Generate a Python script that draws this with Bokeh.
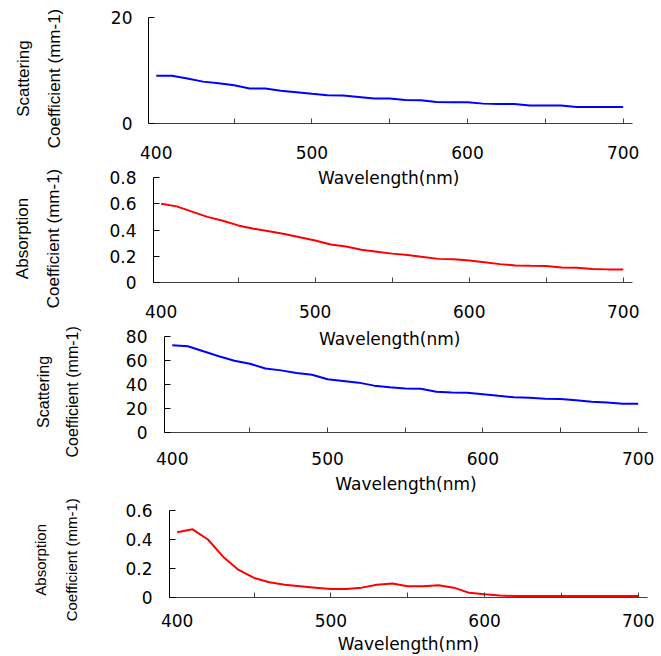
from bokeh.plotting import figure
from bokeh.models import Range1d, FixedTicker, Label, LinearAxis
from bokeh.layouts import column, row
from bokeh.embed import file_html
from bokeh.resources import INLINE

# Wavelength grid (nm)
wavelength = list(range(400, 701, 10))

# Sample 1: scattering and absorption coefficients (mm-1)
scattering_1 = [9.0, 9.0, 8.5, 7.9, 7.6, 7.2, 6.6, 6.6, 6.2, 5.9, 5.6,
                5.35, 5.3, 5.0, 4.7, 4.7, 4.45, 4.4, 4.05, 4.0, 4.0,
                3.75, 3.7, 3.7, 3.4, 3.4, 3.4, 3.1, 3.1, 3.1, 3.1]
absorption_1 = [0.60, 0.58, 0.54, 0.50, 0.47, 0.435, 0.41, 0.39, 0.37, 0.345, 0.32,
                0.29, 0.275, 0.25, 0.235, 0.22, 0.21, 0.195, 0.18, 0.178, 0.168,
                0.155, 0.14, 0.13, 0.127, 0.126, 0.115, 0.113, 0.102, 0.10, 0.10]

# Sample 2: scattering and absorption coefficients (mm-1)
scattering_2 = [72.6, 71.8, 67.6, 63.5, 59.7, 57.2, 53.3, 51.7, 49.5, 48.1, 44.3,
                42.9, 41.5, 39.0, 37.7, 36.6, 36.4, 34.0, 33.2, 33.0, 31.8,
                30.5, 29.3, 29.0, 28.0, 27.8, 26.8, 25.6, 25.0, 24.0, 23.9]
absorption_2 = [0.45, 0.47, 0.40, 0.28, 0.19, 0.135, 0.105, 0.088, 0.078, 0.068, 0.058,
                0.058, 0.068, 0.088, 0.097, 0.078, 0.078, 0.085, 0.068, 0.032, 0.022,
                0.013, 0.010, 0.010, 0.010, 0.010, 0.010, 0.010, 0.010, 0.010, 0.010]

x_labels = [400, 500, 600, 700]
x_minor = [450, 500, 550, 600, 650, 700]
x_title = "Wavelength(nm)"
y_title = "Coefficient (mm-1)"

TICK_FONT = "DejaVu Sans"
TITLE_FONT = "Liberation Sans"
AXIS_COLOR = "#404040"
TITLE_W = 90          # width of the strip that holds the rotated y titles
FULL_W = 661


def title_axis(text, where, size, standoff):
    """A bare axis whose single tick label, laid along the axis, is one title line."""
    return LinearAxis(ticker=FixedTicker(ticks=[where], minor_ticks=[]),
                      major_label_overrides={where: text},
                      major_label_orientation="parallel",
                      major_label_standoff=standoff,
                      major_label_text_font=TITLE_FONT,
                      major_label_text_font_size=size,
                      major_label_text_color="black",
                      axis_line_color=None, major_tick_line_color=None,
                      minor_tick_line_color=None, major_tick_in=0,
                      major_tick_out=0, minor_tick_in=0, minor_tick_out=0)


def title_strip(height, fig_top, borders, outer_text, size, frame_left,
                center, outer_standoff):
    """Narrow figure (vertical scale in page pixels) holding the y title lines."""
    top, bottom = borders
    t = figure(width=TITLE_W, height=height, x_range=Range1d(0, 1),
               y_range=Range1d(fig_top + height - bottom, fig_top + top),
               x_axis_type=None, y_axis_type=None,
               output_backend="svg", toolbar_location=None,
               min_border_left=frame_left, min_border_right=0,
               min_border_top=top, min_border_bottom=bottom,
               background_fill_color="white", border_fill_color="white")
    t.outline_line_color = None
    t.add_layout(title_axis(y_title, center, size, 2), "left")
    t.add_layout(title_axis(outer_text, center, size, outer_standoff), "left")
    return t


def panel(ys, color, y_end, y_ticks, height, borders, axis_px,
          label_standoff, x_label_standoff, show_x_title, title_standoff=5):
    top, bottom, left, right = borders
    frame_h = height - top - bottom
    # the frame may reach above the top tick; the axis line stops at y_end
    y_top = y_end * frame_h / axis_px
    p = figure(width=FULL_W - TITLE_W, height=height, x_range=Range1d(395, 706),
               y_range=Range1d(0, y_top), output_backend="svg",
               toolbar_location=None, min_border_top=top,
               min_border_bottom=bottom, min_border_left=left - TITLE_W,
               min_border_right=right, background_fill_color="white",
               border_fill_color="white")
    p.outline_line_color = None
    p.grid.visible = False

    p.line(wavelength, ys, line_color=color, line_width=2)

    xa = p.xaxis[0]
    xa.ticker = FixedTicker(ticks=x_labels, minor_ticks=x_minor)
    xa.major_tick_in = 0
    xa.major_tick_out = 0
    xa.minor_tick_in = 5
    xa.minor_tick_out = 0
    xa.minor_tick_line_color = AXIS_COLOR
    xa.axis_line_color = AXIS_COLOR
    xa.major_label_standoff = x_label_standoff
    xa.major_label_text_font = TICK_FONT
    xa.major_label_text_font_size = "17px"
    xa.major_label_text_color = "black"
    if show_x_title:
        xa.axis_label = x_title
        xa.axis_label_text_font = TICK_FONT
        xa.axis_label_text_font_size = "17px"
        xa.axis_label_text_font_style = "normal"
        xa.axis_label_text_color = "black"
        xa.axis_label_standoff = title_standoff

    ya = p.yaxis[0]
    ya.ticker = FixedTicker(ticks=y_ticks, minor_ticks=[])
    ya.bounds = (0, y_end)
    ya.major_label_overrides = {0: "0"}
    ya.major_tick_in = 6
    ya.major_tick_out = 0
    ya.major_tick_line_color = "black"
    ya.axis_line_color = "black"
    ya.major_label_standoff = label_standoff
    ya.major_label_text_font = TICK_FONT
    ya.major_label_text_font_size = "17px"
    ya.major_label_text_color = "black"
    return p


# panel 1: scattering, sample 1
p1 = panel(scattering_1, "#0000ff", 20, [0, 20], 165,
           (17, 42, 148, 29), 106, 16, 22, False)
t1 = title_strip(165, 0, (17, 42), "Scattering", "17px", 65, 78, 9)

# panel 2: absorption, sample 1
p2 = panel(absorption_1, "#ff0000", 0.8, [0, 0.2, 0.4, 0.6, 0.8], 157,
           (0, 40, 153, 29), 105, 17, 22, False)
t2 = title_strip(157, 165, (0, 40), "Absorption", "17px", 64, 238, 9)

# panel 3: scattering, sample 2
p3 = panel(scattering_2, "#0000ff", 80, [0, 20, 40, 60, 80], 174,
           (0, 63, 164, 14), 97, 17, 19, True, title_standoff=6)
t3 = title_strip(174, 322, (0, 63), "Scattering", "16px", 83, 392, 9)

# panel 4: absorption, sample 2
p4 = panel(absorption_2, "#ff0000", 0.6, [0, 0.2, 0.4, 0.6], 160,
           (14, 56, 169, 14), 90, 17, 16, True, title_standoff=4)
t4 = title_strip(160, 496, (14, 56), "Absorption", "15px", 82, 561, 11)

# x-axis titles of the upper two panels sit in the top rows of the panel below
p2.add_layout(Label(x=547.7, y=0.795, text=x_title, text_align="center",
                    text_baseline="middle", text_font=TICK_FONT,
                    text_font_size="17px", text_color="black"))
p3.add_layout(Label(x=540, y=78.1, text=x_title, text_align="center",
                    text_baseline="middle", text_font=TICK_FONT,
                    text_font_size="17px", text_color="black"))

layout = column(row(t1, p1, spacing=0), row(t2, p2, spacing=0),
                row(t3, p3, spacing=0), row(t4, p4, spacing=0), spacing=0)

with open("out.html", "w") as f:
    f.write(file_html(layout, INLINE))
